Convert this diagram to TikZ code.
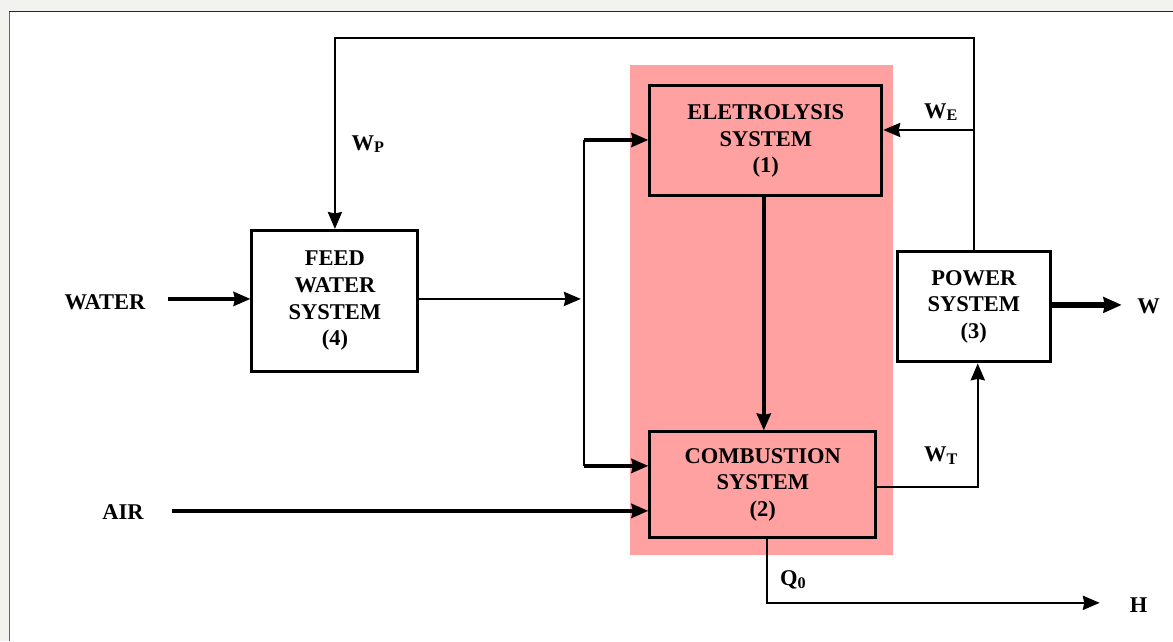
\documentclass[tikz,border=0pt]{standalone}
\usepackage{fontspec}
\setmainfont{Liberation Serif}
\usepackage{xcolor}
\usetikzlibrary{arrows.meta}
\definecolor{pinkbg}{RGB}{255,161,161}
\definecolor{pagegray}{RGB}{242,242,238}
\newcommand{\sub}[2]{#1\raisebox{-0.25ex}{\fontsize{11.5}{12}\selectfont #2}}

\begin{document}
\begin{tikzpicture}[x=0.025cm,y=-0.025cm,
  font=\fontsize{16}{19}\selectfont\bfseries,
  block/.style={draw,line width=2.1pt,align=center,inner sep=0pt},
  tip/.style={-{Stealth[length=12pt,width=10pt,inset=1pt]}},
  flow/.style={tip,line width=1.7pt},
  mainflow/.style={tip,line width=2.6pt},
  bigflow/.style={-{Stealth[length=13pt,width=11pt,inset=1pt]},line width=3.8pt}]
\fill[pagegray](0,0)rectangle(1173,641);
\fill[white](9,11)rectangle(1173,641);
\draw[black!60](9,641)--(9,11);
\draw[black!85](9,11)--(1173,11);
\useasboundingbox(0,0)rectangle(1173,641);
% shaded part
\fill[pinkbg](630,65)rectangle(893,555);
% blocks
\node[block,fill=white,minimum width=4.15cm,minimum height=3.525cm](feed)at(335,301){FEED\\WATER\\SYSTEM\\(4)};
\node[block,fill=pinkbg,minimum width=5.8cm,minimum height=2.75cm](elec)at(766,141){ELETROLYSIS\\SYSTEM\\(1)};
\node[block,fill=pinkbg,minimum width=5.65cm,minimum height=2.65cm](comb)at(763,485){COMBUSTION\\SYSTEM\\(2)};
\node[block,fill=white,minimum width=3.825cm,minimum height=2.75cm](power)at(974,307){POWER\\SYSTEM\\(3)};
% ends and labels
\node(water)at(105,302){WATER};
\node(air)at(123,512){AIR};
\node(outw)at(1149,306){W};
\node(outh)at(1139,605){H};
\node(wp)at(368,144){\sub{W}{P}};
\node(we)at(941,112){\sub{W}{E}};
\node(wt)at(941,456){\sub{W}{T}};
\node(q0)at(793,580){\sub{Q}{0}};
% junctions
\coordinate(topR)at(974,38);
\coordinate(topL)at(335,38);
\coordinate(weJ)at(974,130);
\coordinate(busT)at(584,140);
\coordinate(busB)at(584,466);
\coordinate(wtJ)at(978,487);
\coordinate(q0J)at(767,603);
% connectors
\draw[flow](power.north)--(topR)--(topL)--(feed.north);
\draw[flow](weJ)--(elec.east|-weJ);
\draw[mainflow](168,299)--(feed.west|-0,299);
\draw[flow](feed.east|-0,299)--(581,299);
\draw[line width=1.7pt](busT)--(busB);
\draw[mainflow](busT)--(elec.west|-busT);
\draw[mainflow](busB)--(comb.west|-busB);
\draw[mainflow](172,511)--(comb.west|-0,511);
\draw[mainflow](elec.south-|764,0)--(comb.north-|764,0);
\draw[flow](comb.east|-wtJ)--(wtJ)--(power.south-|wtJ);
\draw[bigflow](power.east|-0,305)--(1122,305);
\draw[flow](comb.south-|q0J)--(q0J)--(1100,603);
\end{tikzpicture}
\end{document}
